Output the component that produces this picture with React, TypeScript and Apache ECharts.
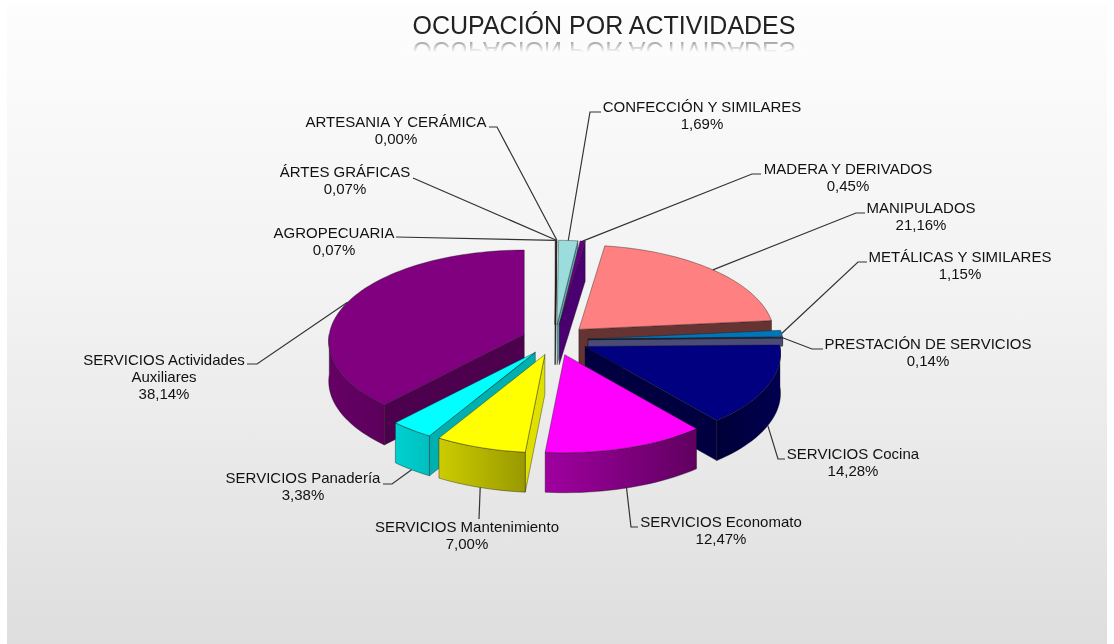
import React, { useEffect, useRef } from "react";
import * as echarts from "echarts";

const titleText = "OCUPACIÓN POR ACTIVIDADES";
const categories = [
  "AGROPECUARIA",
  "ÁRTES GRÁFICAS",
  "ARTESANIA Y CERÁMICA",
  "CONFECCIÓN Y SIMILARES",
  "MADERA Y DERIVADOS",
  "MANIPULADOS",
  "METÁLICAS Y SIMILARES",
  "PRESTACIÓN DE SERVICIOS",
  "SERVICIOS Cocina",
  "SERVICIOS Economato",
  "SERVICIOS Mantenimiento",
  "SERVICIOS Panadería",
  "SERVICIOS Actividades\nAuxiliares",
];
const values = [0.07, 0.07, 0.0, 1.69, 0.45, 21.16, 1.15, 0.14, 14.28, 12.47, 7.0, 3.38, 38.14];

// top colour, outer wall left, outer wall right, cut wall
const sliceColors = [
  ["#5a4a6a", "#444444", "#444444", "#3a3a3a"],
  ["#303030", "#444444", "#444444", "#222222"],
  ["#808080", "#808080", "#808080", "#808080"],
  ["#9bdcdc", "#7fc0c0", "#7fc0c0", "#5fa8a8"],
  ["#660080", "#4a0070", "#4a0070", "#4a0070"],
  ["#ff8080", "#663333", "#663333", "#663333"],
  ["#0075b8", "#005a90", "#005a90", "#004a78"],
  ["#3c3c64", "#4b4b78", "#4b4b78", "#4b4b78"],
  ["#000080", "#000038", "#000050", "#000040"],
  ["#ff00ff", "#a000a0", "#600060", "#600060"],
  ["#ffff00", "#cccc00", "#999900", "#e0e000"],
  ["#00ffff", "#00d0d0", "#00c0c0", "#00b0b0"],
  ["#800080", "#660066", "#5c005c", "#4d004d"],
];

// centre of each label's text, then the leader's bend points, from the text outwards
const labelLayout: { x: number; y: number; path: number[][] }[] = [
  { x: 334, y: 241, path: [[396, 237]] },
  { x: 345, y: 180, path: [[413, 178]] },
  { x: 396, y: 130, path: [[489, 127], [497, 127]] },
  { x: 702, y: 115, path: [[601, 112], [590, 112]] },
  { x: 848, y: 177, path: [[761, 174], [752, 174]] },
  { x: 921, y: 216, path: [[865, 213], [856, 213]] },
  { x: 960, y: 265, path: [[867, 262], [858, 262]] },
  { x: 928, y: 352, path: [[823, 349], [812, 349]] },
  { x: 853, y: 462, path: [[785, 459], [778, 459]] },
  { x: 721, y: 530, path: [[638, 527], [631, 527]] },
  { x: 467, y: 535, path: [[479, 519]] },
  { x: 303, y: 486, path: [[383, 484], [392, 484]] },
  { x: 164, y: 376, path: [[247, 364], [257, 364]] },
];

const CX = 555;
const CY = 340;
const R = 195;
const EXPLODE = 33;
const TILT = 0.465;
const PERSP = 0.075;
const DEPTH = 40;
const RAD = Math.PI / 180;

const total = values.reduce((a, b) => a + b, 0);
const starts: number[] = [];
values.reduce((acc, v, i) => {
  starts[i] = acc;
  return acc + v;
}, 0);

function rim(ax: number, ay: number, deg: number) {
  const s = Math.sin(deg * RAD);
  const c = Math.cos(deg * RAD);
  const p = 1 / (1 + PERSP * c);
  return [ax + R * s * p, ay - R * c * TILT * p];
}

function arc(ax: number, ay: number, a: number, b: number, dy = 0) {
  const n = Math.max(2, Math.ceil((b - a) / 2));
  const pts: number[][] = [];
  for (let i = 0; i <= n; i++) {
    const q = rim(ax, ay, a + ((b - a) * i) / n);
    pts.push([q[0], q[1] + dy]);
  }
  return pts;
}

const edge = { stroke: "rgba(20,20,20,0.65)", lineWidth: 0.6 };

function renderItem(params: any, api: any) {
  const i = params.dataIndex;
  const v = api.value(0);
  const a = (starts[i] / total) * 360;
  const b = a + (v / total) * 360;
  const mid = (a + b) / 2;
  const ax = CX + EXPLODE * Math.sin(mid * RAD);
  const ay = CY - EXPLODE * Math.cos(mid * RAD) * TILT;
  const [top, wallL, wallR, cut] = sliceColors[i];
  const base = Math.round(1000 * (1 - Math.cos(mid * RAD)));
  const children: any[] = [];

  if (v > 0) {
    // walls that end just short of 90 degrees only show as a narrow band above the next slice
    const cutDepth = (deg: number) => (deg > 85 && deg < 90 ? 8 : DEPTH);
    const wall = (deg: number) => {
      const q = rim(ax, ay, deg);
      const d = cutDepth(deg);
      children.push({
        type: "polygon",
        z2: base,
        shape: { points: [[ax, ay], q, [q[0], q[1] + d], [ax, ay + d]] },
        style: { fill: cut, ...edge },
      });
    };
    if (b < 180) wall(b);
    if (a > 180) wall(a);
    const lo = Math.max(a, 90);
    const hi = Math.min(b, 270);
    if (hi > lo) {
      children.push({
        type: "polygon",
        z2: base + 1,
        shape: { points: [...arc(ax, ay, lo, hi), ...arc(ax, ay, lo, hi, DEPTH).reverse()] },
        style: {
          fill: new echarts.graphic.LinearGradient(0, 0, 1, 0, [
            { offset: 0, color: wallL },
            { offset: 1, color: wallR },
          ]),
          ...edge,
        },
      });
    }
    children.push({
      type: "polygon",
      z2: base + 2,
      shape: { points: [[ax, ay], ...arc(ax, ay, a, b)] },
      style: { fill: top, ...edge },
    });
  }

  const front = Math.cos(mid * RAD) < 0;
  const tip = rim(ax, ay, mid);
  const end = [tip[0], tip[1] + (front ? DEPTH : 0)];
  const layout = labelLayout[i];
  children.push({
    type: "polyline",
    z2: 3000,
    shape: { points: [...layout.path, end] },
    style: { stroke: "#333333", lineWidth: 1.2, fill: null },
  });
  children.push({
    type: "text",
    z2: 3001,
    style: {
      text: `${categories[i]}\n${v.toFixed(2).replace(".", ",")}%`,
      x: layout.x,
      y: layout.y,
      align: "center",
      verticalAlign: "middle",
      fill: "#111111",
      font: "15px 'Liberation Sans', Arial, sans-serif",
      lineHeight: 17,
    },
  });
  return { type: "group", children };
}

export default function App() {
  const ref = useRef<HTMLDivElement>(null);
  useEffect(() => {
    if (!ref.current) return;
    const chart = echarts.init(ref.current, null, { renderer: "svg" });
    chart.setOption({
      animation: false,
      graphic: [
        {
          type: "rect",
          z: -10,
          silent: true,
          shape: { x: 7, y: 5, width: 1100, height: 639 },
          style: {
            fill: new echarts.graphic.LinearGradient(0, 0, 0, 1, [
              { offset: 0, color: "#fdfdfd" },
              { offset: 0.5, color: "#f1f1f1" },
              { offset: 1, color: "#dfdede" },
            ]),
          },
        },
        {
          type: "text",
          z: 5,
          silent: true,
          style: {
            text: titleText,
            x: 604,
            y: 25,
            align: "center",
            verticalAlign: "middle",
            fill: "#222222",
            font: "25px 'Liberation Sans', Arial, sans-serif",
          },
        },
        {
          type: "text",
          z: 5,
          silent: true,
          x: 604,
          y: 51,
          scaleY: -1,
          style: {
            text: titleText,
            x: 0,
            y: 0,
            align: "center",
            verticalAlign: "middle",
            fill: "#777777",
            font: "25px 'Liberation Sans', Arial, sans-serif",
          },
        },
        {
          type: "rect",
          z: 6,
          silent: true,
          shape: { x: 400, y: 38, width: 410, height: 32 },
          style: {
            fill: new echarts.graphic.LinearGradient(0, 0, 0, 1, [
              { offset: 0, color: "rgba(252,252,252,0.1)" },
              { offset: 0.45, color: "rgba(252,252,252,1)" },
              { offset: 1, color: "rgba(251,251,251,1)" },
            ]),
          },
        },
      ],
      series: [
        {
          type: "custom",
          coordinateSystem: "none",
          silent: true,
          renderItem,
          data: categories.map((name, i) => ({ name, value: [values[i]] })),
        },
      ],
    });
    return () => chart.dispose();
  }, []);
  return <div ref={ref} style={{ position: "fixed", left: 0, top: 0, width: 1114, height: 644 }} />;
}
